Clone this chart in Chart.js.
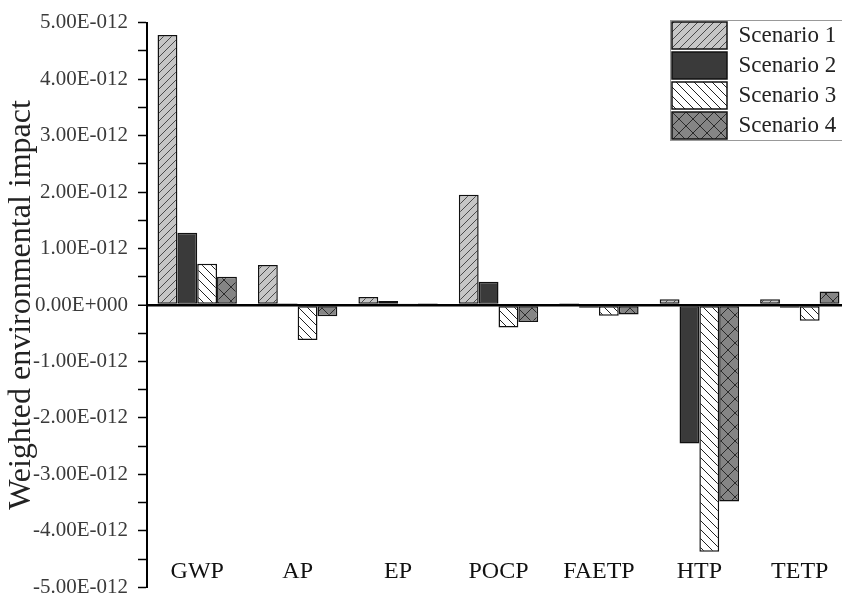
<!DOCTYPE html>
<html>
<head>
<meta charset="utf-8">
<script src="https://cdn.jsdelivr.net/npm/chart.js@4/dist/chart.umd.min.js"></script>
<style>
  html, body { margin: 0; padding: 0; background: #fff; overflow: hidden; }
  #wrap { width: 842px; height: 597px; overflow: hidden; }
</style>
</head>
<body>
<div id="wrap"><canvas id="myChart" width="852" height="610"></canvas></div>
<script>
// categories and values (units of 1E-012)
const categories = ['GWP', 'AP', 'EP', 'POCP', 'FAETP', 'HTP', 'TETP'];
const scenario1 = [4.78, 0.71, 0.14, 1.95, 0.03, 0.10, 0.10];
const scenario2 = [1.28, 0.03, 0.07, 0.41, -0.05, -2.45, -0.05];
const scenario3 = [0.73, -0.62, 0.01, -0.40, -0.19, -4.37, -0.28];
const scenario4 = [0.50, -0.20, 0.03, -0.30, -0.17, -3.48, 0.24];
const seriesNames = ['Scenario 1', 'Scenario 2', 'Scenario 3', 'Scenario 4'];
const yTicks = { min: -5, max: 5, step: 0.5 };

const canvas = document.getElementById('myChart');
const ctx = canvas.getContext('2d');

// small tiles for the hatch fills
function hatch(bg, fg, size, dirs) {
    const c = document.createElement('canvas');
    c.width = size;
    c.height = size;
    const g = c.getContext('2d');
    g.fillStyle = bg;
    g.fillRect(0, 0, size, size);
    g.strokeStyle = fg;
    g.lineWidth = 1;
    g.beginPath();
    dirs.forEach(d => {
        if (d === '/') {
            g.moveTo(-1, size + 1); g.lineTo(size + 1, -1);
            g.moveTo(-1, 1); g.lineTo(1, -1);
            g.moveTo(size - 1, size + 1); g.lineTo(size + 1, size - 1);
        } else {
            g.moveTo(-1, -1); g.lineTo(size + 1, size + 1);
            g.moveTo(size - 1, -1); g.lineTo(size + 1, 1);
            g.moveTo(-1, size - 1); g.lineTo(1, size + 1);
        }
    });
    g.stroke();
    return ctx.createPattern(c, 'repeat');
}

const fills = [
    hatch('#c6c6c6', '#4a4a4a', 8, ['/']),
    '#3a3a3a',
    hatch('#ffffff', '#222222', 9, ['\\']),
    hatch('#858585', '#2a2a2a', 14, ['/', '\\'])
];

const datasets = [scenario1, scenario2, scenario3, scenario4].map((vals, i) => ({
    label: seriesNames[i],
    data: vals,
    backgroundColor: fills[i],
    borderColor: '#111',
    borderWidth: 1.5,
    borderSkipped: false,
    categoryPercentage: 0.79,
    barPercentage: 1.0
}));

// move the legend into the top right corner, with a frame round it
const legendSpot = {
    id: 'legendSpot',
    afterLayout(chart) {
        const lg = chart.legend;
        const w = lg.width, h = lg.height;
        lg.left = 669; lg.top = 19;
        lg.right = lg.left + w; lg.bottom = lg.top + h;
    },
    afterDraw(chart) {
        const c = chart.ctx;
        c.save();
        c.strokeStyle = '#999';
        c.lineWidth = 1;
        c.strokeRect(670.5, 20.5, 200, 120);
        c.restore();
    }
};

const serif = '"Liberation Serif", "Times New Roman", serif';

const myChart = new Chart(ctx, {
    type: 'bar',
    data: {
        labels: categories,
        datasets: datasets
    },
    plugins: [legendSpot],
    options: {
        responsive: false,
        animation: false,
        layout: { padding: { top: 16, bottom: 0, right: 2, left: 0 } },
        plugins: {
            legend: {
                position: 'chartArea',
                align: 'start',
                labels: {
                    boxWidth: 55,
                    boxHeight: 27,
                    padding: 3,
                    color: '#222',
                    font: { family: serif, size: 23 }
                }
            },
            tooltip: { enabled: false }
        },
        scales: {
            x: {
                type: 'category',
                position: { y: -4.47 },
                grid: { display: false, drawTicks: false },
                border: { display: false },
                ticks: {
                    padding: 0,
                    color: '#111',
                    font: { family: serif, size: 24 }
                }
            },
            y: {
                min: yTicks.min,
                max: yTicks.max,
                afterFit(scale) { scale.width = 147; },
                ticks: {
                    stepSize: yTicks.step,
                    autoSkip: false,
                    padding: 10,
                    color: '#3a3a3a',
                    font: { family: serif, size: 21 },
                    callback(v) {
                        if (Math.abs(v % 1) > 0.01) return '';
                        if (v === 0) return '0.00E+000';
                        return v.toFixed(2) + 'E-012';
                    }
                },
                grid: {
                    color: c => c.tick && c.tick.value === 0 ? '#000' : 'rgba(0,0,0,0)',
                    lineWidth: c => c.tick && c.tick.value === 0 ? 2.5 : 1,
                    tickColor: '#000',
                    tickWidth: 1.5,
                    tickLength: 9
                },
                border: { color: '#000', width: 2 },
                title: {
                    display: true,
                    text: 'Weighted environmental impact',
                    color: '#222',
                    font: { family: serif, size: 32 },
                    padding: { top: 2, bottom: 0 }
                }
            }
        }
    }
});
</script>
</body>
</html>
